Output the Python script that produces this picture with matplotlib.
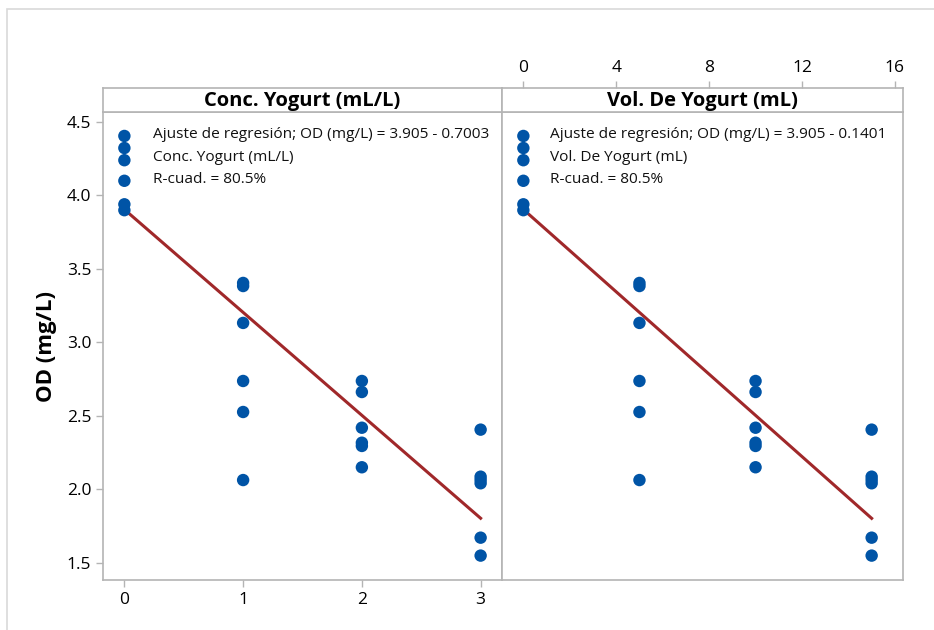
import matplotlib
matplotlib.use("Agg")
import matplotlib.pyplot as plt
from matplotlib.patches import Rectangle
import numpy as np

plt.rcParams['font.family'] = ['Open Sans', 'DejaVu Sans']

# OD readings per yogurt level
conc = [0, 1, 2, 3]
vol = [0, 5, 10, 15]
od_0 = [4.405, 4.323, 4.24, 4.10, 3.94, 3.90]
od_1 = [3.405, 3.384, 3.133, 2.738, 2.527, 2.064]
od_2 = [2.738, 2.663, 2.42, 2.318, 2.296, 2.151]
od_3 = [2.407, 2.087, 2.065, 2.042, 1.672, 1.55]
od_groups = [od_0, od_1, od_2, od_3]

# fitted model from the regression output
intercept = 3.905
slope_conc = -0.7003
slope_vol = -0.1401
r_sq = 80.5

blue = '#0054a6'
red = '#a0282a'
frame = '#b4b4b4'

W, H = 934, 630
fig = plt.figure(figsize=(W / 100, H / 100), dpi=100)

# light border around the figure
fig.add_artist(Rectangle((7 / W, -0.1), 1.2, 1 - 9 / H + 0.1, transform=fig.transFigure,
                         fill=False, ec='#d9d9d9', lw=1.2))


def fpos(x0, x1, ytop, ybot):
    return [x0 / W, 1 - ybot / H, (x1 - x0) / W, (ybot - ytop) / H]


ax1 = fig.add_axes(fpos(103, 502, 112, 580))
ax2 = fig.add_axes(fpos(502, 903, 112, 580))
hd1 = fig.add_axes(fpos(103, 502, 88, 112))
hd2 = fig.add_axes(fpos(502, 903, 88, 112))

panels = [
    (ax1, hd1, conc, slope_conc, 'Conc. Yogurt (mL/L)', (-0.18, 3.18)),
    (ax2, hd2, vol, slope_vol, 'Vol. De Yogurt (mL)', (-0.92, 16.35)),
]

for ax, hd, xs, slope, name, xlim in panels:
    for x, ys in zip(xs, od_groups):
        ax.scatter([x] * len(ys), ys, s=80, color=blue, edgecolors='none', zorder=3)
    xl = np.array([xs[0], xs[-1]])
    ax.plot(xl, intercept + slope * xl, color=red, lw=2.2, zorder=2)
    ax.set_xlim(*xlim)
    ax.set_ylim(1.384, 4.568)

    lines = [f'Ajuste de regresión; OD (mg/L) = {intercept:.3f} - {abs(slope):.4f}',
             name,
             f'R-cuad. = {r_sq:.1f}%']
    for i, t in enumerate(lines):
        ax.text(0.12 if ax is ax2 else 0.125, 0.951 - i * 0.048, t, transform=ax.transAxes,
                fontsize=11.1, va='center', ha='left', color='#111111')

    hd.set_xlim(*xlim)
    hd.set_yticks([])
    hd.text(0.5, 0.45, name, transform=hd.transAxes, ha='center', va='center',
            fontsize=14.5, fontweight='bold')

    for a in (ax, hd):
        for sp in a.spines.values():
            sp.set_color(frame)
            sp.set_linewidth(1.2)
    ax.tick_params(colors=frame, labelcolor='black', labelsize=12.5, length=5, width=1)
    hd.tick_params(colors=frame, labelcolor='black', labelsize=12.5, length=5, width=1)

# left panel: bottom and left ticks
ax1.set_xticks(conc)
ax1.set_yticks([1.5, 2.0, 2.5, 3.0, 3.5, 4.0, 4.5])
ax1.yaxis.set_major_formatter(matplotlib.ticker.FormatStrFormatter('%.1f'))
ax1.set_ylabel('OD (mg/L)', fontsize=16, fontweight='bold', labelpad=7)
hd1.set_xticks([])

# right panel: scale shown above the header
ax2.set_xticks([])
ax2.set_yticks([])
hd2.set_xticks([0, 4, 8, 12, 16])
hd2.tick_params(axis='x', top=True, labeltop=True, bottom=False, labelbottom=False)

fig.savefig('out.png', dpi=100)
